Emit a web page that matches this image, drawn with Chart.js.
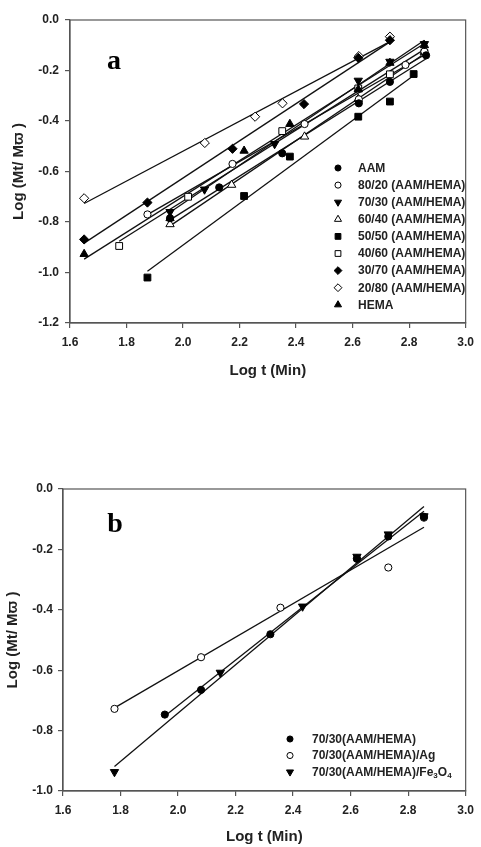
<!DOCTYPE html>
<html><head><meta charset="utf-8">
<script src="https://cdn.jsdelivr.net/npm/chart.js@4.4.0/dist/chart.umd.min.js"></script>
<style>
html,body{margin:0;padding:0;background:#fff;width:481px;height:847px;overflow:hidden;}
#wrapA{position:absolute;left:0;top:0;width:481px;height:400px;}
#wrapB{position:absolute;left:0;top:440px;width:481px;height:407px;}
</style></head><body>
<div id="wrapA"><canvas id="cA"></canvas></div>
<div id="wrapB"><canvas id="cB"></canvas></div>
<script>
// ---------- Panel a ----------
const xTicksA = [1.6, 1.8, 2.0, 2.2, 2.4, 2.6, 2.8, 3.0];
const yTicksA = [0.0, -0.2, -0.4, -0.6, -0.8, -1.0, -1.2];
const namesA = ['AAM', '80/20 (AAM/HEMA)', '70/30 (AAM/HEMA)', '60/40 (AAM/HEMA)', '50/50 (AAM/HEMA)',
                '40/60 (AAM/HEMA)', '30/70 (AAM/HEMA)', '20/80 (AAM/HEMA)', 'HEMA'];
const aamX  = [1.954, 2.128, 2.351, 2.622, 2.732, 2.860];
const aamY  = [-0.785, -0.663, -0.528, -0.330, -0.245, -0.140];
const s8020X = [1.874, 2.175, 2.430, 2.622, 2.787, 2.854];
const s8020Y = [-0.770, -0.570, -0.412, -0.314, -0.178, -0.125];
const s7030X = [1.954, 2.076, 2.324, 2.620, 2.732, 2.854];
const s7030Y = [-0.760, -0.671, -0.491, -0.240, -0.165, -0.095];
const s6040X = [1.954, 2.172, 2.430, 2.620, 2.854];
const s6040Y = [-0.809, -0.653, -0.462, -0.313, -0.127];
const s5050X = [1.874, 2.216, 2.378, 2.620, 2.732, 2.816];
const s5050Y = [-1.020, -0.697, -0.541, -0.383, -0.323, -0.214];
const s4060X = [1.774, 2.018, 2.351, 2.620, 2.732, 2.854];
const s4060Y = [-0.895, -0.700, -0.440, -0.271, -0.215, -0.130];
const s3070X = [1.650, 1.874, 2.175, 2.428, 2.620, 2.732];
const s3070Y = [-0.869, -0.723, -0.510, -0.333, -0.150, -0.080];
const s2080X = [1.650, 2.077, 2.255, 2.352, 2.622, 2.732];
const s2080Y = [-0.706, -0.487, -0.383, -0.330, -0.143, -0.066];
const hemaX = [1.650, 1.954, 2.216, 2.378, 2.620, 2.732, 2.854];
const hemaY = [-0.927, -0.785, -0.518, -0.412, -0.275, -0.170, -0.100];

// ---------- Panel b ----------
const xTicksB = [1.6, 1.8, 2.0, 2.2, 2.4, 2.6, 2.8, 3.0];
const yTicksB = [0.0, -0.2, -0.4, -0.6, -0.8, -1.0];
const namesB = ['70/30(AAM/HEMA)', '70/30(AAM/HEMA)/Ag', '70/30(AAM/HEMA)/Fe3O4'];
const b7030X = [1.954, 2.080, 2.321, 2.622, 2.731, 2.855];
const b7030Y = [-0.747, -0.665, -0.481, -0.231, -0.157, -0.092];
const bAgX   = [1.779, 2.080, 2.356, 2.622, 2.731, 2.855];
const bAgY   = [-0.728, -0.557, -0.393, -0.231, -0.260, -0.095];
const bFeX   = [1.779, 2.147, 2.433, 2.622, 2.731, 2.855];
const bFeY   = [-0.937, -0.608, -0.389, -0.224, -0.150, -0.090];

// ---------- helpers ----------
const FONT = "'Liberation Sans', Arial, sans-serif";
function pts(xs, ys) { return xs.map((x, i) => ({x: x, y: ys[i]})); }
function fitLine(xs, ys) {
  const n = xs.length;
  const mx = xs.reduce((a, b) => a + b, 0) / n, my = ys.reduce((a, b) => a + b, 0) / n;
  let sxy = 0, sxx = 0;
  for (let i = 0; i < n; i++) { sxy += (xs[i] - mx) * (ys[i] - my); sxx += (xs[i] - mx) * (xs[i] - mx); }
  const k = sxy / sxx, b = my - k * mx;
  const x0 = Math.min(...xs), x1 = Math.max(...xs);
  return [{x: x0, y: k * x0 + b}, {x: x1, y: k * x1 + b}];
}
const STY = {
  fcircle: {pointStyle: 'circle', r: 3.6, rot: 0, fill: '#000'},
  ocircle: {pointStyle: 'circle', r: 3.6, rot: 0, fill: '#fff'},
  ftriDown: {pointStyle: 'triangle', r: 4.8, rot: 180, fill: '#000'},
  otri: {pointStyle: 'triangle', r: 4.8, rot: 0, fill: '#fff'},
  frect: {pointStyle: 'rect', r: 4.8, rot: 0, fill: '#000'},
  orect: {pointStyle: 'rect', r: 4.8, rot: 0, fill: '#fff'},
  fdiam: {pointStyle: 'rectRot', r: 4.6, rot: 0, fill: '#000'},
  odiam: {pointStyle: 'rectRot', r: 4.6, rot: 0, fill: '#fff'},
  ftri: {pointStyle: 'triangle', r: 4.8, rot: 0, fill: '#000'}
};
function buildDatasets(series) {
  const fits = [], marks = [];
  series.forEach(s => {
    fits.push({type: 'scatter', data: fitLine(s.x, s.y), showLine: true, borderColor: '#111', borderWidth: 1.3,
               pointRadius: 0, pointHoverRadius: 0, fill: false, order: 100});
    const st = STY[s.style];
    marks.push({type: 'scatter', label: s.name, data: pts(s.x, s.y), showLine: false,
                pointStyle: st.pointStyle, pointRadius: st.r, pointRotation: st.rot,
                pointBackgroundColor: st.fill, pointBorderColor: '#000', pointBorderWidth: 1,
                order: st.fill === '#000' ? 1 : 10});
  });
  return fits.concat(marks);
}
function drawMarker(ctx, st, x, y, scale) {
  ctx.save();
  ctx.fillStyle = st.fill; ctx.strokeStyle = '#000'; ctx.lineWidth = 1;
  Chart.helpers.drawPoint(ctx, {pointStyle: st.pointStyle, radius: st.r * scale, rotation: st.rot, borderWidth: 1}, x, y);
  ctx.restore();
}
const framePlugin = {
  id: 'frame',
  afterDatasetsDraw(chart) {
    const a = chart.chartArea, ctx = chart.ctx;
    ctx.save(); ctx.strokeStyle = '#555'; ctx.lineWidth = 1.2;
    ctx.strokeRect(a.left, a.top, a.right - a.left, a.bottom - a.top);
    ctx.restore();
  }
};
function makeOptions(cfg) {
  return {
    responsive: false, animation: false, devicePixelRatio: 1,
    layout: {padding: cfg.padding},
    plugins: {legend: {display: false}, tooltip: {enabled: false}},
    scales: {
      x: {
        type: 'linear', min: cfg.xTicks[0], max: cfg.xTicks[cfg.xTicks.length - 1],
        afterBuildTicks: s => { s.ticks = cfg.xTicks.map(v => ({value: v})); },
        afterFit: s => { s.height = cfg.xH; },
        grid: {drawOnChartArea: false, drawTicks: true, tickLength: 5, color: '#555', lineWidth: 1.2},
        border: {display: true, color: '#555', width: 1.2},
        ticks: {padding: cfg.xTickPad, color: '#222', font: {family: FONT, size: 12, weight: 'bold'},
                maxRotation: 0, autoSkip: false, callback: v => Number(v).toFixed(1)},
        title: {display: true, text: 'Log t (Min)', color: '#222', font: {family: FONT, size: 15, weight: 'bold'},
                padding: {top: 0, bottom: cfg.xTitlePad}}
      },
      y: {
        type: 'linear', min: Math.min(...cfg.yTicks), max: Math.max(...cfg.yTicks),
        afterBuildTicks: s => { s.ticks = cfg.yTicks.slice().reverse().map(v => ({value: v})); },
        afterFit: s => { s.width = cfg.yW; },
        grid: {drawOnChartArea: false, drawTicks: true, tickLength: 5, color: '#555', lineWidth: 1.2},
        border: {display: true, color: '#555', width: 1.2},
        ticks: {padding: cfg.yTickPad, color: '#222', font: {family: FONT, size: 12, weight: 'bold'},
                autoSkip: false, callback: v => (Math.abs(v) < 1e-9 ? '0.0' : Number(v).toFixed(1))},
        title: {display: true, text: 'Log (Mt/ Mϖ )', color: '#222', font: {family: FONT, size: 15, weight: 'bold'},
                padding: {top: cfg.yTitlePad, bottom: 0}}
      }
    }
  };
}

// ---------- Chart a ----------
const cA = document.getElementById('cA'); cA.width = 481; cA.height = 400;
const seriesA = [
  {name: namesA[0], x: aamX, y: aamY, style: 'fcircle'},
  {name: namesA[1], x: s8020X, y: s8020Y, style: 'ocircle'},
  {name: namesA[2], x: s7030X, y: s7030Y, style: 'ftriDown'},
  {name: namesA[3], x: s6040X, y: s6040Y, style: 'otri'},
  {name: namesA[4], x: s5050X, y: s5050Y, style: 'frect'},
  {name: namesA[5], x: s4060X, y: s4060Y, style: 'orect'},
  {name: namesA[6], x: s3070X, y: s3070Y, style: 'fdiam'},
  {name: namesA[7], x: s2080X, y: s2080Y, style: 'odiam'},
  {name: namesA[8], x: hemaX, y: hemaY, style: 'ftri'}
];
const legendA = {
  id: 'legendA',
  afterDraw(chart) {
    const ctx = chart.ctx;
    ctx.save();
    ctx.font = "bold 12px " + FONT; ctx.fillStyle = '#222'; ctx.textBaseline = 'middle'; ctx.textAlign = 'left';
    seriesA.forEach((s, i) => {
      const y = 168 + i * 17.1;
      drawMarker(ctx, STY[s.style], 338, y, 0.85);
      ctx.fillStyle = '#222';
      ctx.fillText(s.name, 358, y + 0.5);
    });
    ctx.font = "bold 28px 'Liberation Serif', 'Times New Roman', serif";
    ctx.fillStyle = '#000'; ctx.textAlign = 'center'; ctx.textBaseline = 'alphabetic';
    ctx.fillText('a', 114, 69);
    ctx.restore();
  }
};
new Chart(cA, {
  type: 'scatter',
  data: {datasets: buildDatasets(seriesA)},
  options: makeOptions({padding: {left: 0, top: 20, right: 9, bottom: 0}, xTicks: xTicksA, yTicks: yTicksA,
                        xH: 77, yW: 70, xTickPad: 7, yTickPad: 6, xTitlePad: 20, yTitlePad: 10}),
  plugins: [framePlugin, legendA]
});

// ---------- Chart b ----------
const cB = document.getElementById('cB'); cB.width = 481; cB.height = 407;
const seriesB = [
  {name: namesB[0], x: b7030X, y: b7030Y, style: 'fcircle'},
  {name: namesB[1], x: bAgX, y: bAgY, style: 'ocircle'},
  {name: namesB[2], x: bFeX, y: bFeY, style: 'ftriDown'}
];
const legendB = {
  id: 'legendB',
  afterDraw(chart) {
    const ctx = chart.ctx;
    ctx.save();
    ctx.textBaseline = 'middle'; ctx.textAlign = 'left';
    seriesB.forEach((s, i) => {
      const y = 299 + i * 16.5;
      drawMarker(ctx, STY[s.style], 290, y, 0.85);
      ctx.fillStyle = '#222';
      ctx.font = "bold 12px " + FONT;
      const m = s.name.match(/^(.*Fe)3O4$/);
      if (m) {
        let x = 312;
        ctx.fillText(m[1], x, y + 0.5); x += ctx.measureText(m[1]).width;
        ctx.font = "bold 8px " + FONT;
        ctx.fillText('3', x, y + 4); x += ctx.measureText('3').width;
        ctx.font = "bold 12px " + FONT;
        ctx.fillText('O', x, y + 0.5); x += ctx.measureText('O').width;
        ctx.font = "bold 8px " + FONT;
        ctx.fillText('4', x, y + 4);
      } else {
        ctx.fillText(s.name, 312, y + 0.5);
      }
    });
    ctx.font = "bold 28px 'Liberation Serif', 'Times New Roman', serif";
    ctx.fillStyle = '#000'; ctx.textAlign = 'center'; ctx.textBaseline = 'alphabetic';
    ctx.fillText('b', 115, 92);
    ctx.restore();
  }
};
new Chart(cB, {
  type: 'scatter',
  data: {datasets: buildDatasets(seriesB)},
  options: makeOptions({padding: {left: 0, top: 49, right: 14, bottom: 0}, xTicks: xTicksB, yTicks: yTicksB,
                        xH: 56, yW: 63, xTickPad: 7, yTickPad: 5, xTitlePad: 1, yTitlePad: 4}),
  plugins: [framePlugin, legendB]
});
</script>
</body></html>
